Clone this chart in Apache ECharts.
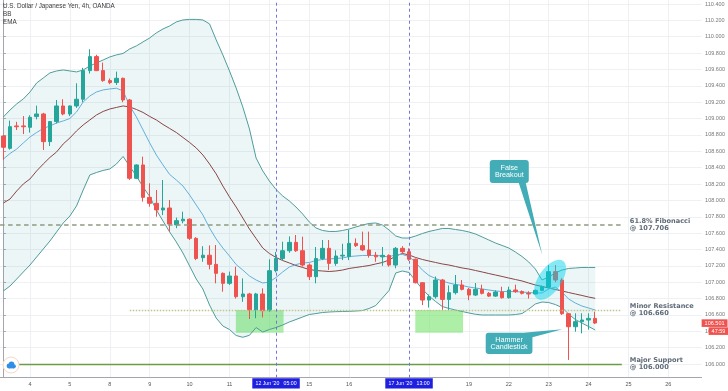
<!DOCTYPE html>
<html>
<head>
<meta charset="utf-8">
<script src="https://cdn.jsdelivr.net/npm/echarts@6/dist/echarts.min.js"></script>
<style>html,body{margin:0;padding:0;background:#fff}#c{width:728px;height:391px}</style>
</head>
<body>
<div id="c"></div>
<script>
// ---- Data (4h candles, index 0 = 3 Jun 09:00) ----
const dayLabels = ['4','5','8','9','10','11','12','15','16','17','18','19','22','23','24','25','26'];
const hiddenDayLabels = ['12','17','18'];
const firstDaySlot = 4;
const slotsPerDay = 6;

const opens = [108.787,108.636,108.91,108.91,108.893,109.024,109.056,108.718,108.963,109.154,
109.056,109.154,109.236,109.586,109.757,109.586,109.464,109.44,109.492,109.227,
108.27,108.433,108.037,107.964,107.883,107.907,107.70,107.75,107.77,107.536,
107.30,107.33,107.218,107.108,106.986,107.076,106.823,106.856,106.66,106.856,
106.652,107.141,107.29,107.385,107.487,107.385,107.21,107.068,107.29,107.414,
107.23,107.32,107.312,107.475,107.447,107.394,107.33,107.31,107.328,107.21,
107.414,107.373,107.28,106.994,106.782,106.823,107.027,106.79,106.872,106.966,
106.913,106.843,106.913,106.864,106.83,106.88,106.81,106.905,106.885,106.864,
106.856,106.90,106.937,107.129,107.027,106.615,106.456,106.518,106.538,106.558];
const closes = [108.649,108.901,108.90,108.90,109.015,109.056,108.718,108.963,109.154,109.056,
109.154,109.236,109.586,109.757,109.586,109.464,109.44,109.492,109.227,108.27,
108.433,108.037,107.964,107.883,107.907,107.711,107.752,107.77,107.536,107.29,
107.33,107.218,107.108,106.986,107.076,106.823,106.856,106.66,106.856,106.652,
107.141,107.29,107.385,107.487,107.385,107.21,107.068,107.29,107.414,107.23,
107.32,107.33,107.475,107.447,107.394,107.33,107.31,107.328,107.21,107.414,
107.373,107.28,106.994,106.782,106.823,107.027,106.79,106.872,106.966,106.913,
106.843,106.913,106.864,106.83,106.88,106.81,106.905,106.885,106.864,106.856,
106.90,106.945,107.129,107.027,106.615,106.456,106.518,106.538,106.558,106.501];
const lows = [108.494,108.62,108.86,108.81,108.828,108.99,108.616,108.665,108.94,109.04,
109.03,109.13,109.20,109.55,109.58,109.45,109.42,109.41,109.20,108.25,
108.26,107.985,107.923,107.80,107.82,107.618,107.66,107.72,107.516,107.27,
107.25,107.157,106.986,106.884,106.966,106.80,106.76,106.55,106.56,106.57,
106.64,107.12,107.27,107.36,107.37,107.19,107.027,106.986,107.27,107.15,
107.20,107.27,107.27,107.43,107.38,107.30,107.25,107.20,107.19,107.17,
107.35,107.26,106.985,106.72,106.69,106.80,106.66,106.66,106.85,106.90,
106.78,106.83,106.85,106.82,106.82,106.80,106.80,106.87,106.85,106.80,
106.85,106.89,106.93,107.00,106.60,106.05,106.395,106.375,106.42,106.49];
const highs = [108.80,108.975,108.96,109.03,109.04,109.158,109.07,108.97,109.227,109.236,
109.16,109.431,109.62,109.847,109.78,109.684,109.49,109.574,109.50,109.24,
108.44,108.535,108.209,108.127,108.249,108.005,107.79,107.862,107.78,107.55,
107.44,107.45,107.455,107.12,107.13,107.19,107.047,106.87,106.87,106.925,
107.28,107.37,107.495,107.56,107.577,107.557,107.23,107.43,107.516,107.516,
107.39,107.47,107.638,107.536,107.618,107.618,107.37,107.43,107.34,107.43,
107.44,107.414,107.29,107.00,106.85,107.07,107.04,106.96,107.088,107.027,
106.93,106.99,106.97,106.88,106.90,106.945,106.945,106.97,106.90,106.89,
106.91,106.96,107.21,107.21,107.05,106.62,106.62,106.62,106.62,106.64];

const bbUpper = [109.020,109.105,109.179,109.240,109.325,109.435,109.496,109.558,109.582,109.594,
109.582,109.570,109.594,109.643,109.680,109.716,109.753,109.778,109.796,109.851,
109.888,109.937,109.985,110.047,110.095,110.132,110.181,110.205,110.212,110.212,
110.205,110.157,109.961,109.778,109.582,109.374,109.142,108.873,108.518,108.360,
108.237,108.133,108.054,107.993,107.919,107.834,107.736,107.663,107.632,107.620,
107.620,107.632,107.650,107.675,107.699,107.718,107.724,107.699,107.638,107.565,
107.540,107.540,107.565,107.595,107.620,107.638,107.657,107.657,107.644,107.632,
107.614,107.589,107.553,107.516,107.479,107.449,107.418,107.369,107.314,107.247,
107.161,107.027,107.064,107.113,107.149,107.168,107.174,107.180,107.180,107.180];
const bbLower = [106.893,106.954,107.039,107.125,107.210,107.308,107.406,107.504,107.614,107.724,
107.809,107.932,108.127,108.311,108.341,108.366,108.384,108.445,108.537,108.415,
108.298,108.164,108.048,107.883,107.748,107.614,107.492,107.357,107.198,107.039,
106.917,106.721,106.562,106.465,106.422,106.349,106.327,106.351,106.446,106.391,
106.422,106.446,106.477,106.514,106.544,106.575,106.605,106.617,106.630,106.636,
106.640,106.642,106.644,106.648,106.654,106.679,106.715,106.807,106.899,107.113,
107.137,107.119,107.015,106.917,106.831,106.764,106.703,106.679,106.660,106.642,
106.624,106.608,106.599,106.599,106.599,106.599,106.599,106.605,106.617,106.672,
106.734,106.758,106.752,106.727,106.691,106.611,106.544,106.501,106.459,106.416];
const bbBasis = [107.968,108.017,108.115,108.201,108.262,108.360,108.445,108.525,108.592,108.690,
108.763,108.849,108.922,108.983,109.044,109.087,109.117,109.136,109.154,109.142,
109.111,109.075,109.026,108.983,108.928,108.879,108.830,108.769,108.708,108.641,
108.555,108.445,108.323,108.176,108.042,107.919,107.785,107.650,107.534,107.418,
107.351,107.302,107.265,107.235,107.204,107.180,107.155,107.143,107.137,107.131,
107.137,107.149,107.168,107.180,107.192,107.204,107.223,107.241,107.271,107.320,
107.351,107.333,107.302,107.278,107.259,107.241,107.223,107.210,107.192,107.174,
107.161,107.143,107.125,107.106,107.088,107.070,107.051,107.033,107.015,106.990,
106.966,106.948,106.929,106.911,106.893,106.874,106.856,106.838,106.819,106.803];
const ema = [108.506,108.573,108.628,108.702,108.775,108.830,108.879,108.910,108.946,108.971,
109.001,109.081,109.203,109.276,109.325,109.350,109.362,109.371,109.338,109.154,
109.020,108.861,108.702,108.555,108.433,108.317,108.249,108.176,108.066,107.944,
107.822,107.663,107.528,107.418,107.320,107.216,107.149,107.076,107.027,106.990,
107.003,107.058,107.125,107.186,107.216,107.235,107.241,107.265,107.278,107.284,
107.290,107.296,107.314,107.320,107.327,107.327,107.327,107.320,107.308,107.339,
107.339,107.314,107.241,107.149,107.082,107.045,107.015,106.990,106.972,106.960,
106.941,106.929,106.917,106.905,106.893,106.886,106.886,106.884,106.880,106.874,
106.868,106.868,106.917,106.941,106.880,106.795,106.746,106.709,106.685,106.660];

const priceTicks = [106.0,106.2,106.4,106.6,106.8,107.0,107.2,107.4,107.6,107.8,108.0,108.2,
108.4,108.6,108.8,109.0,109.2,109.4,109.6,109.8,110.0,110.2,110.4];

const fibLevel = 107.706;
const minorResistance = 106.660;
const majorSupport = 106.000;
const lastPrice = 106.501;
const countdownText = '47:59';
const eventSlots = [41, 61];
const eventLabels = ["12 Jun '20   05:00", "17 Jun '20   13:00"];
const zoneTop = 106.66, zoneBottom = 106.383;
const zoneStarts = [34.96, 61.94];
const zoneEnds = [42.13, 69.12];
const breakoutPoint = [82.2, 107.03];
const levelLineEnd = 93;

// ---- Chart ----
const FONT = '"Liberation Sans", Arial, sans-serif';
const LFONT = '"DejaVu Sans", Verdana, sans-serif';
const daySlots = dayLabels.map((d, k) => firstDaySlot + slotsPerDay * k);
const visibleDaySlots = daySlots.filter((s, k) => hiddenDayLabels.indexOf(dayLabels[k]) < 0);
const candleData = opens.map((o, i) => [i, o, closes[i], lows[i], highs[i]]);
const xy = arr => arr.map((v, i) => [i, v]);
const bandData = bbUpper.map((v, i) => [i, v, bbLower[i]]);

const bandColor = '#4f9c9c';
const calloutColor = '#42adb6';
const levelLabel = (text) => ({
  show: true, position: 'end', distance: 8, formatter: text,
  color: '#5f6a78', fontSize: 6.6, fontWeight: 'bold', lineHeight: 6.8, fontFamily: LFONT
});
const falseBreakoutPath = 'path://M3 0 H36 Q39 0 39 3 V20 Q39 23 36 23 L52.5 95 L29 23 H3 Q0 23 0 20 V3 Q0 0 3 0 Z';
const hammerPath = 'path://M3 3.4 H38 L76.7 0 L46.7 8 V21.7 Q46.7 24.7 43.7 24.7 H3 Q0 24.7 0 21.7 V6.4 Q0 3.4 3 3.4 Z';
const priceTag = (text, offset) => ({
  yAxis: lastPrice, lineStyle: {width: 0, color: 'rgba(0,0,0,0)'},
  label: {show: true, position: 'end', distance: 0, offset: offset, formatter: text,
    backgroundColor: '#ef5350', color: '#fff', fontSize: 5.5, padding: [0.8, 3], fontFamily: FONT}
});

const chart = echarts.init(document.getElementById('c'), null, {renderer: 'canvas'});
chart.setOption({
  animation: false,
  backgroundColor: '#ffffff',
  textStyle: {fontFamily: FONT},
  title: [
    {text: 'U.S. Dollar / Japanese Yen, 4h, OANDA', left: 3, top: 3, padding: 0,
     textStyle: {fontSize: 6.3, color: '#3a3a3a', fontWeight: 'normal', fontFamily: FONT}},
    {text: 'BB', left: 3, top: 11.5, padding: 0,
     textStyle: {fontSize: 6.3, color: '#3a3a3a', fontWeight: 'normal', fontFamily: FONT}},
    {text: 'EMA', left: 3, top: 19.5, padding: 0,
     textStyle: {fontSize: 6.3, color: '#3a3a3a', fontWeight: 'normal', fontFamily: FONT}}
  ],
  grid: {left: 0, right: 26, top: 0, bottom: 13.3, containLabel: false},
  xAxis: {
    type: 'value', min: -0.511, max: 105,
    axisLine: {show: true, lineStyle: {color: '#a3a6af', width: 1}},
    axisTick: {show: false, customValues: daySlots},
    splitLine: {show: true, lineStyle: {color: '#eef0f4', width: 1}},
    axisLabel: {customValues: visibleDaySlots, fontSize: 5.5, color: '#555', margin: 4,
      formatter: v => dayLabels[Math.round((v - firstDaySlot) / slotsPerDay)]}
  },
  yAxis: {
    type: 'value', position: 'right', min: 105.833, max: 110.449,
    axisLine: {show: true, lineStyle: {color: '#a3a6af', width: 1}},
    axisTick: {show: true, length: 2.5, customValues: priceTicks, lineStyle: {color: '#a3a6af'}},
    axisLabel: {customValues: priceTicks, fontSize: 5.5, color: '#777', margin: 3.5,
      formatter: v => v.toFixed(3)},
    splitLine: {show: true, lineStyle: {color: '#eef0f4', width: 1}}
  },
  series: [
    {
      type: 'custom', name: 'BB fill', data: bandData, z: 1, silent: true,
      encode: {x: 0, y: [1, 2]},
      renderItem: (params, api) => {
        if (params.dataIndex !== 0) return null;
        const pts = [];
        for (let i = 0; i < bandData.length; i++) pts.push(api.coord([bandData[i][0], bandData[i][1]]));
        for (let i = bandData.length - 1; i >= 0; i--) pts.push(api.coord([bandData[i][0], bandData[i][2]]));
        return {type: 'polygon', shape: {points: pts}, style: {fill: 'rgba(0,140,140,0.075)'}};
      }
    },
    {
      type: 'line', name: 'BB lower', data: xy(bbLower), symbol: 'none', silent: true, z: 2,
      lineStyle: {color: bandColor, width: 1}
    },
    {
      type: 'line', name: 'BB upper', data: xy(bbUpper), symbol: 'none', silent: true, z: 2,
      lineStyle: {color: bandColor, width: 1}
    },
    {
      type: 'line', name: 'BB basis', data: xy(bbBasis), symbol: 'none', silent: true, z: 2,
      lineStyle: {color: '#8a4646', width: 1},
      markArea: {
        silent: true,
        itemStyle: {color: 'rgba(120,228,110,0.6)'},
        data: zoneStarts.map((s, k) => [{coord: [s, zoneTop]}, {coord: [zoneEnds[k], zoneBottom]}])
      }
    },
    {
      type: 'line', name: 'EMA', data: xy(ema), symbol: 'none', silent: true, z: 2,
      lineStyle: {color: '#62b0dc', width: 1}
    },
    {
      type: 'candlestick', name: 'USDJPY', data: candleData, z: 3,
      encode: {x: 0, y: [1, 2, 3, 4]},
      barWidth: 4,
      itemStyle: {color: '#26a69a', color0: '#ef5350', borderColor: '#26a69a', borderColor0: '#ef5350', borderWidth: 1},
      markLine: {
        silent: true, symbol: ['none', 'none'], animation: false,
        data: [
          [{coord: [-0.5, fibLevel], lineStyle: {color: '#8e9a80', width: 1.6, type: [4.5, 3.5]},
            label: levelLabel('61.8% Fibonacci\n@ 107.706')},
           {coord: [levelLineEnd, fibLevel]}],
          [{coord: [19, minorResistance], lineStyle: {color: '#bfc58e', width: 1.4, type: [1.5, 1.5]},
            label: levelLabel('Minor Resistance\n@ 106.660')},
           {coord: [levelLineEnd, minorResistance]}],
          [{coord: [2.3, majorSupport], lineStyle: {color: '#6e9b45', width: 1.4, type: 'solid'},
            label: levelLabel('Major Support\n@ 106.000')},
           {coord: [levelLineEnd, majorSupport]}],
          ...eventSlots.map((s, k) => ({
            xAxis: s,
            lineStyle: {color: '#7474d8', width: 1, type: [3, 3]},
            label: {show: true, position: 'start', distance: 0.5, formatter: eventLabels[k],
              backgroundColor: '#1f1fe0', color: '#fff', fontSize: 5.2, padding: [2.6, 3.2], fontFamily: FONT}
          })),
          priceTag(lastPrice.toFixed(3), [0, 0]),
          priceTag(countdownText, [7, 8])
        ]
      }
    },
    {
      type: 'scatter', name: 'breakout', data: [breakoutPoint], z: 4, silent: true,
      symbol: 'circle', symbolSize: [23, 46], symbolRotate: -34,
      itemStyle: {color: 'rgba(0,212,236,0.6)'},
      markPoint: {
        silent: true, animation: false,
        data: [
          {coord: [77.09, 107.913], symbol: falseBreakoutPath, symbolSize: [52.5, 95],
           itemStyle: {color: calloutColor},
           label: {show: true, formatter: 'False\nBreakout', position: [19.5, 11.8], align: 'center',
             verticalAlign: 'middle', color: '#fff', fontSize: 7.2, lineHeight: 7.4, fontFamily: FONT}},
          {coord: [78.30, 106.273], symbol: hammerPath, symbolSize: [76.7, 24.7],
           itemStyle: {color: calloutColor},
           label: {show: true, formatter: 'Hammer\nCandlestick', position: [23.35, 14.2], align: 'center',
             verticalAlign: 'middle', color: '#fff', fontSize: 7.2, lineHeight: 7.4, fontFamily: FONT}}
        ]
      }
    }
  ],
  graphic: [
    {type: 'circle', shape: {cx: 11, cy: 365, r: 8}, style: {fill: '#ffffff', stroke: '#f4d9c4', lineWidth: 1}, z: 10},
    {type: 'circle', shape: {cx: 9, cy: 366, r: 2.4}, style: {fill: '#2f8ee6'}, z: 11},
    {type: 'circle', shape: {cx: 11.5, cy: 364.3, r: 2.8}, style: {fill: '#2f8ee6'}, z: 11},
    {type: 'circle', shape: {cx: 13.8, cy: 366.3, r: 2.1}, style: {fill: '#2f8ee6'}, z: 11},
    {type: 'rect', shape: {x: 9, y: 366, width: 4.8, height: 2.4}, style: {fill: '#2f8ee6'}, z: 11}
  ]
});
</script>
</body>
</html>
